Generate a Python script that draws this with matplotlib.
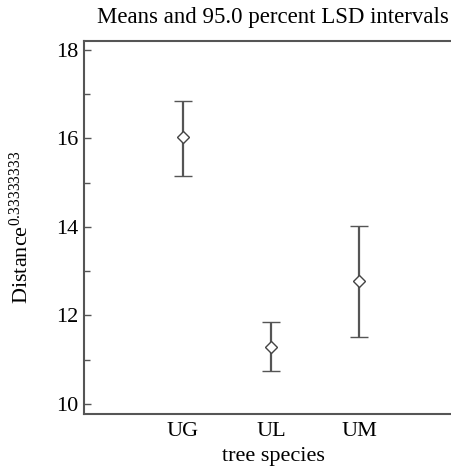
import matplotlib
matplotlib.use("Agg")
import matplotlib.pyplot as plt
from matplotlib.ticker import MultipleLocator

categories = ["UG", "UL", "UM"]
means = [16.02, 11.29, 12.77]
lower = [15.16, 10.74, 11.51]
upper = [16.85, 11.84, 14.03]

plt.rcParams['font.family'] = ['Liberation Serif', 'DejaVu Serif']
plt.rcParams['mathtext.fontset'] = 'custom'
plt.rcParams['mathtext.rm'] = 'Liberation Serif'
plt.rcParams['mathtext.it'] = 'Liberation Serif:italic'
fig = plt.figure(figsize=(4.52, 4.69), dpi=100)
ax = fig.add_axes([84/452, 1-414/469, (462-84)/452, (414-41)/469])

col = '#555555'
x = [1, 2, 3]
yerr = [[m - l for m, l in zip(means, lower)], [u - m for u, m in zip(upper, means)]]
ax.errorbar(x, means, yerr=yerr, fmt='D', mfc='white', mec='#444444', ms=6.5, mew=1.0,
            ecolor=col, elinewidth=1.6, capsize=6.5, capthick=1.6, color=col)

ax.set_xlim(-0.125, 4.17)
ax.set_ylim(9.77, 18.2)
ax.set_xticks(x)
ax.set_xticklabels(categories)
ax.yaxis.set_major_locator(MultipleLocator(2))
ax.yaxis.set_minor_locator(MultipleLocator(1))
ax.tick_params(axis='y', which='major', direction='in', length=5, width=1, color=col, labelsize=16, pad=4)
ax.tick_params(axis='y', which='minor', direction='in', length=4, width=1, color=col)
ax.tick_params(axis='x', length=0, labelsize=16, pad=6)
for s in ax.spines.values():
    s.set_color(col)
    s.set_linewidth(1.5)
ax.spines['right'].set_visible(False)

ax.set_xlabel("tree species", fontsize=16, labelpad=4)
ax.set_ylabel(r"Distance$^{\mathrm{0.33333333}}$", fontsize=16, labelpad=17)
ax.set_title("Means and 95.0 percent LSD intervals", fontsize=16.5, pad=13)

fig.savefig("out.png", dpi=100)
